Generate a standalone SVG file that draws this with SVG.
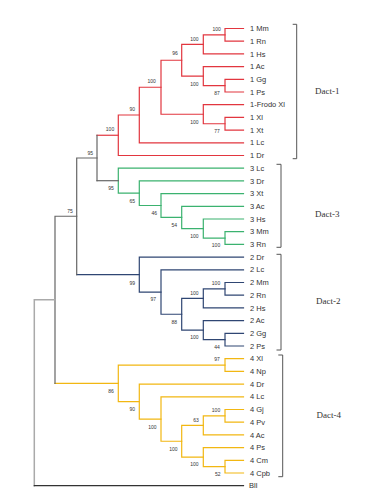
<svg xmlns="http://www.w3.org/2000/svg" width="374" height="500" viewBox="0 0 374 500">
<style>
.e{fill:none;stroke-width:1.2;stroke-linecap:square}
.r{stroke:#e2363f}.g{stroke:#3bb26f}.b{stroke:#2f4673}.y{stroke:#f2b712}.k{stroke:#666}.lk{stroke:#aaa;stroke-width:1.5}.dk{stroke:#333}
.br{fill:none;stroke:#555;stroke-width:1}
.leaf{font-family:"Liberation Sans",Arial,sans-serif;font-size:7.5px;fill:#333}
.bs{font-family:"Liberation Sans",Arial,sans-serif;font-size:5px;fill:#333;text-anchor:middle}
.cl{font-family:"Liberation Serif","Times New Roman",serif;font-size:9px;fill:#333}
</style>
<rect width="374" height="500" fill="#fff"/>
<g id="connectors">
<!-- Dact-1 -->
<path class="e r" d="M243.5 28.5H225V41.2H243.5"/>
<path class="e r" d="M225 34.85H203.3V53.9H243.5"/>
<path class="e r" d="M243.5 79.3H225V92H243.5"/>
<path class="e r" d="M243.5 66.6H203.3V85.65H225"/>
<path class="e r" d="M203.3 44.38H181.7V76.13H203.3"/>
<path class="e r" d="M243.5 117.4H225V130.1H243.5"/>
<path class="e r" d="M243.5 104.7H203.3V123.75H225"/>
<path class="e r" d="M181.7 60.25H161V114.23H203.3"/>
<path class="e r" d="M161 87.24H139.3V142.8H243.5"/>
<path class="e r" d="M139.3 115.02H118.3V155.5H243.5"/>
<path class="e r" d="M97 135.26H118.3"/>
<!-- Dact-3 -->
<path class="e g" d="M243.5 231.7H225V244.4H243.5"/>
<path class="e g" d="M243.5 219H203.3V238.05H225"/>
<path class="e g" d="M243.5 206.3H181.7V228.53H203.3"/>
<path class="e g" d="M243.5 193.6H161V217.41H181.7"/>
<path class="e g" d="M243.5 180.9H139.3V205.5H161"/>
<path class="e g" d="M243.5 168.2H118.3V193.2H139.3"/>
<path class="e k" d="M97 180.7H118.3"/>
<!-- Dact-2 -->
<path class="e b" d="M243.5 282.5H225V295.2H243.5"/>
<path class="e b" d="M225 288.85H203.3V307.9H243.5"/>
<path class="e b" d="M243.5 333.3H225V346H243.5"/>
<path class="e b" d="M243.5 320.6H203.3V339.65H225"/>
<path class="e b" d="M203.3 298.38H181.7V330.13H203.3"/>
<path class="e b" d="M243.5 269.8H161V314.25H181.7"/>
<path class="e b" d="M243.5 257.1H139.3V292.03H161"/>
<path class="e b" d="M76.7 274.56H139.3"/>
<!-- Dact-4 -->
<path class="e y" d="M243.5 358.7H225V371.4H243.5"/>
<path class="e y" d="M243.5 409.5H225V422.2H243.5"/>
<path class="e y" d="M225 415.85H203.3V434.9H243.5"/>
<path class="e y" d="M243.5 460.3H225V473H243.5"/>
<path class="e y" d="M243.5 447.6H203.3V466.65H225"/>
<path class="e y" d="M203.3 425.38H181.7V457.13H203.3"/>
<path class="e y" d="M243.5 396.8H161V441.25H181.7"/>
<path class="e y" d="M243.5 384.1H139.3V419.03H161"/>
<path class="e y" d="M225 365.05H118.3V401.57H139.3"/>
<path class="e y" d="M55 383.31H118.3"/>
<!-- backbone -->
<path class="e k" d="M97 135.26V180.7"/>
<path class="e k" d="M97 157.98H76.7V274.56"/>
<path class="e k" d="M76.7 216.27H55V383.31"/>
<path class="e lk" d="M55 299.79H34.3V485.7"/>
<path class="e dk" d="M34.3 485.7H243.5"/>
</g>
<g id="leaves" class="leaf">
<text x="250" y="31.1">1 Mm</text>
<text x="250" y="43.8">1 Rn</text>
<text x="250" y="56.5">1 Hs</text>
<text x="250" y="69.2">1 Ac</text>
<text x="250" y="81.9">1 Gg</text>
<text x="250" y="94.6">1 Ps</text>
<text x="250" y="107.3">1-Frodo Xl</text>
<text x="250" y="120">1 Xl</text>
<text x="250" y="132.7">1 Xt</text>
<text x="250" y="145.4">1 Lc</text>
<text x="250" y="158.1">1 Dr</text>
<text x="250" y="170.8">3 Lc</text>
<text x="250" y="183.5">3 Dr</text>
<text x="250" y="196.2">3 Xt</text>
<text x="250" y="208.9">3 Ac</text>
<text x="250" y="221.6">3 Hs</text>
<text x="250" y="234.3">3 Mm</text>
<text x="250" y="247">3 Rn</text>
<text x="250" y="259.7">2 Dr</text>
<text x="250" y="272.4">2 Lc</text>
<text x="250" y="285.1">2 Mm</text>
<text x="250" y="297.8">2 Rn</text>
<text x="250" y="310.5">2 Hs</text>
<text x="250" y="323.2">2 Ac</text>
<text x="250" y="335.9">2 Gg</text>
<text x="250" y="348.6">2 Ps</text>
<text x="250" y="361.3">4 Xl</text>
<text x="250" y="374">4 Np</text>
<text x="250" y="386.7">4 Dr</text>
<text x="250" y="399.4">4 Lc</text>
<text x="250" y="412.1">4 Gj</text>
<text x="250" y="424.8">4 Pv</text>
<text x="250" y="437.5">4 Ac</text>
<text x="250" y="450.2">4 Ps</text>
<text x="250" y="462.9">4 Cm</text>
<text x="250" y="475.6">4 Cpb</text>
<text x="249" y="488.3">Bll</text>
</g>
<g id="bootstrap" class="bs">
<text x="216.7" y="30.8">100</text>
<text x="194.3" y="40.5">100</text>
<text x="175" y="55.1">96</text>
<text x="217" y="94.5">87</text>
<text x="194.3" y="85.5">100</text>
<text x="151.7" y="83.1">100</text>
<text x="194.3" y="123.5">100</text>
<text x="217" y="133.1">77</text>
<text x="132.3" y="110.8">90</text>
<text x="110" y="131.1">100</text>
<text x="90.3" y="154.5">95</text>
<text x="70" y="212.5">75</text>
<text x="111" y="189.5">95</text>
<text x="132.3" y="202.5">65</text>
<text x="154.3" y="214.5">46</text>
<text x="174.3" y="226.8">54</text>
<text x="194.3" y="237.8">100</text>
<text x="216" y="247.1">100</text>
<text x="132.3" y="284.5">99</text>
<text x="153.3" y="301.1">97</text>
<text x="174.3" y="323.5">88</text>
<text x="194.3" y="294.5">100</text>
<text x="216" y="285.1">100</text>
<text x="194.3" y="339.1">100</text>
<text x="217" y="348.5">44</text>
<text x="111" y="392.5">86</text>
<text x="217" y="361.1">97</text>
<text x="132.3" y="411.1">90</text>
<text x="152.3" y="428.5">100</text>
<text x="173.3" y="450.5">100</text>
<text x="196" y="421.8">63</text>
<text x="216" y="411.8">100</text>
<text x="194.3" y="466.1">100</text>
<text x="217.7" y="476.1">52</text>
</g>
<g id="dact1">
<path class="br" d="M292.7 24.3H296.7V158.7H292.7"/>
<text class="cl" x="315" y="94">Dact-1</text>
</g>
<g id="dact3">
<path class="br" d="M276.5 164.3H281V247.3H276.5"/>
<text class="cl" x="315" y="216.5">Dact-3</text>
</g>
<g id="dact2">
<path class="br" d="M276.5 254.3H281V350H276.5"/>
<text class="cl" x="316" y="304">Dact-2</text>
</g>
<g id="dact4">
<path class="br" d="M278.3 355H282.7V476.7H278.3"/>
<text class="cl" x="316.5" y="418">Dact-4</text>
</g>
</svg>
